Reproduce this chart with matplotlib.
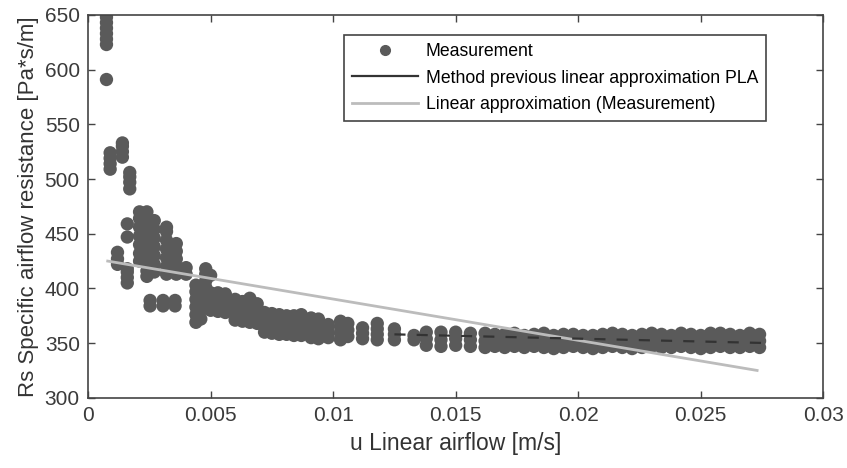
import numpy as np
import matplotlib
matplotlib.use("Agg")
import matplotlib.pyplot as plt
from matplotlib.lines import Line2D

plt.rcParams['font.family'] = ['Liberation Sans', 'DejaVu Sans']

col_x = [0.00075, 0.0009, 0.0012, 0.0014, 0.0016, 0.0017, 0.0021, 0.0024, 0.00253,
         0.0027, 0.00306, 0.0032, 0.00355, 0.0036, 0.0040, 0.0044, 0.0046, 0.0048,
         0.0050, 0.0053, 0.0056, 0.0060, 0.0063, 0.0066, 0.0069, 0.0072, 0.0075,
         0.0078, 0.0081, 0.0084, 0.0087, 0.0091, 0.0094, 0.0098, 0.0103, 0.0106,
         0.0112, 0.0118, 0.0125, 0.0133, 0.0138, 0.0144, 0.0150, 0.0156, 0.0162,
         0.0166, 0.0170, 0.0174, 0.0178, 0.0182, 0.0186, 0.0190, 0.0194, 0.0198,
         0.0202, 0.0206, 0.0210, 0.0214, 0.0218, 0.0222, 0.0226, 0.0230, 0.0234,
         0.0238, 0.0242, 0.0246, 0.0250, 0.0254, 0.0258, 0.0262, 0.0266, 0.0270,
         0.0274]
col_y = [[591, 623, 628, 633, 638, 643, 648, 652],
         [509, 514, 519, 524],
         [422, 427, 433],
         [520, 525, 530, 533],
         [405, 410, 415, 418, 447, 459],
         [491, 497, 502, 506],
         [425, 432, 440, 448, 456, 464, 470],
         [411, 416, 422, 430, 438, 446, 454, 462, 470],
         [384, 389],
         [415, 422, 430, 438, 446, 454, 462],
         [384, 389],
         [413, 420, 428, 436, 444, 452, 456],
         [384, 389],
         [413, 420, 427, 434, 441],
         [413, 419],
         [369, 376, 383, 390, 397, 403],
         [372, 380, 388, 396],
         [401, 407, 413, 418],
         [380, 386, 392, 396, 412],
         [379, 385, 391, 396],
         [378, 384, 390, 395],
         [371, 377, 383, 390],
         [370, 376, 382, 388],
         [369, 375, 382, 391],
         [368, 374, 380, 386],
         [360, 366, 372, 378],
         [359, 365, 371, 377],
         [358, 364, 370, 376],
         [358, 364, 370, 375],
         [357, 363, 369, 375],
         [357, 363, 369, 376],
         [355, 361, 367, 373],
         [354, 360, 366, 372],
         [355, 361, 367],
         [353, 359, 365, 370],
         [356, 362, 368],
         [354, 359, 364],
         [353, 358, 363, 368],
         [353, 358, 363],
         [353, 357],
         [348, 354, 360],
         [347, 353, 360],
         [348, 354, 360],
         [347, 353, 359],
         [346, 352, 359],
         [347, 353, 358],
         [346, 352, 358],
         [347, 353, 359],
         [346, 351, 357],
         [347, 352, 358],
         [346, 352, 359],
         [345, 351, 357],
         [346, 352, 358],
         [347, 353, 358],
         [346, 352, 357],
         [345, 351, 357],
         [346, 352, 358],
         [347, 353, 359],
         [346, 352, 358],
         [345, 351, 357],
         [346, 352, 358],
         [347, 353, 359],
         [346, 352, 358],
         [346, 351, 357],
         [347, 353, 359],
         [346, 352, 358],
         [345, 351, 357],
         [346, 352, 359],
         [347, 353, 359],
         [346, 352, 358],
         [346, 352, 357],
         [347, 353, 359],
         [346, 352, 358]]

# PLA line (dark, dashed over the points) and linear fit of measurement (light)
pla_x = [0.0125, 0.0278]
pla_y = [358, 350]
fit_x = [0.0008, 0.0273]
fit_y = [425, 325]

meas_x = []
meas_y = []
for cx, ys in zip(col_x, col_y):
    for yy in ys:
        meas_x.append(cx)
        meas_y.append(yy)

fig = plt.figure(figsize=(8.47, 4.68), dpi=100)
ax = fig.add_axes([0.104, 0.15, 0.868, 0.818])

ax.scatter(meas_x, meas_y, s=92, color='#5a5a5a', edgecolors='none', zorder=2)
ax.plot(fit_x, fit_y, color='#bcbcbc', lw=2.0, zorder=3)
ax.plot(pla_x, pla_y, color='#333333', lw=1.6, ls=(0, (5, 5)), zorder=4)

ax.set_xlim(0, 0.03)
ax.set_ylim(300, 650)
ax.set_xticks([0, 0.005, 0.01, 0.015, 0.02, 0.025, 0.03])
ax.set_xticklabels(['0', '0.005', '0.01', '0.015', '0.02', '0.025', '0.03'])
ax.set_yticks([300, 350, 400, 450, 500, 550, 600, 650])
ax.tick_params(direction='in', top=True, right=True, length=5, width=1,
               color='#444444', labelsize=15, labelcolor='#3a3a3a', pad=6)
for sp in ax.spines.values():
    sp.set_color('#444444')
    sp.set_linewidth(1.2)

ax.set_xlabel('u Linear airflow [m/s]', fontsize=16.5, color='#333333', labelpad=5)
ax.set_ylabel('Rs Specific airflow resistance [Pa*s/m]', fontsize=16, color='#333333',
              labelpad=4)

handles = [Line2D([], [], ls='none', marker='o', ms=7, color='#5a5a5a'),
           Line2D([], [], color='#333333', lw=1.6),
           Line2D([], [], color='#bcbcbc', lw=2.0)]
labels = ['Measurement', 'Method previous linear approximation PLA',
          'Linear approximation (Measurement)']
leg = ax.legend(handles, labels, loc='upper right', bbox_to_anchor=(0.922, 0.948),
                borderaxespad=0, fontsize=12.7, handlelength=3.7, handletextpad=0.45,
                labelspacing=0.55, borderpad=0.45, fancybox=False, framealpha=1)
leg.get_frame().set_edgecolor('#444444')
leg.get_frame().set_linewidth(1.2)

fig.savefig('out.png', dpi=100)
